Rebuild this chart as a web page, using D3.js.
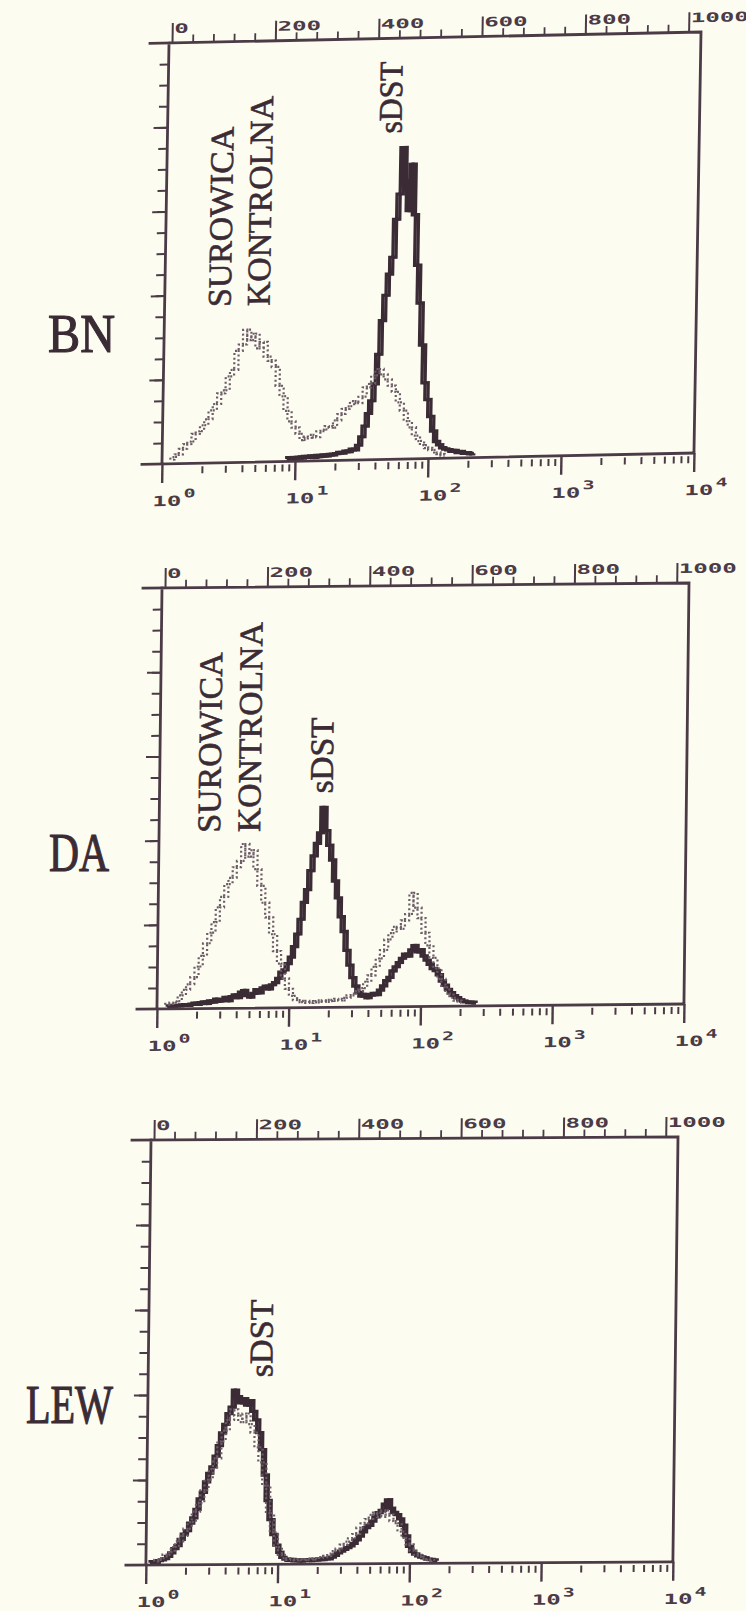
<!DOCTYPE html>
<html>
<head>
<meta charset="utf-8">
<script src="https://cdn.jsdelivr.net/npm/d3@7"></script>
<style>
  html, body { margin: 0; padding: 0; background: #fcfcf0; }
  svg { display: block; }
</style>
</head>
<body>
<svg id="fig" width="746" height="1611"></svg>
<script>
// ---------------------------------------------------------------------------
// Flow-cytometry histograms: fluorescence (log, 4 decades, 1024 channels)
// versus relative cell count (% of full scale). Each series is stored as
// counts per bin, starting at a channel and advancing by a fixed bin width.
// ---------------------------------------------------------------------------

// Strain labels
const strains = ["BN", "DA", "LEW"];

// Top channel axis and bottom decade axis
const channelLabels = [0, 200, 400, 600, 800, 1000];
const channelMinor = [40, 80, 120, 160, 240, 280, 320, 360, 440, 480, 520, 560,
                      640, 680, 720, 760, 840, 880, 920, 960];
const decades = [1, 10, 100, 1000, 10000];
const decadeExponents = ["0", "1", "2", "3", "4"];
const countTicks = [5, 10, 15, 20, 25, 30, 35, 40, 45, 50, 55, 60, 65, 70, 75, 80, 85, 90, 95];
const countMajor = [20, 40, 60, 80];

// BN — control serum (dotted) and sDST (solid)
const bnControlStart = 16, bnControlStep = 8;
const bnControl = [1.0, 1.6, 2.2, 3.5, 4.6, 5.2, 7.0, 7.6, 9.0, 10.4, 12.5, 14.0, 16.5, 17.2,
  20.5, 22.0, 26.5, 28.0, 31.5, 29.0, 30.5, 27.0, 28.5, 25.0, 24.0, 22.5, 18.0, 15.5, 12.0,
  9.5, 8.0, 6.5, 5.0, 5.5, 6.2, 5.6, 7.0, 7.4, 8.2, 7.8, 9.5, 11.0, 12.2, 12.8, 14.0, 13.5,
  15.0, 17.2, 18.0, 20.0, 21.5, 20.2, 19.0, 17.5, 16.0, 13.5, 11.5, 9.0, 7.5, 5.5, 4.2, 3.2,
  2.5, 2.0, 1.4, 1.0, 0.6];
const bnSdstStart = 240, bnSdstStep = 6;
const bnSdst = [0.6, 0.9, 0.5, 0.8, 1.0, 0.7, 1.1, 0.9, 1.2, 0.8, 1.3, 1.0, 1.4, 1.1, 1.5,
  1.3, 1.6, 1.9, 1.7, 2.2, 2.0, 2.6, 2.4, 3.5, 5.5, 8.0, 11.0, 14.0, 18.0, 25.0, 33.0, 39.0,
  44.0, 48.0, 57.0, 63.0, 74.0, 66.0, 59.0, 70.0, 58.0, 46.0, 37.0, 27.0, 18.0, 14.0, 10.0,
  6.5, 4.0, 3.2, 2.5, 2.2, 2.0, 1.6, 1.8, 1.3, 1.5, 1.1, 1.2, 0.9, 1.0];

// DA — control serum (dotted) and sDST (solid)
const daControlStart = 16, daControlStep = 8;
const daControl = [1.0, 1.2, 1.5, 1.8, 3.2, 4.5, 5.8, 7.5, 10.0, 12.5, 15.5, 18.0, 20.5, 24.0,
  26.5, 29.5, 31.0, 33.5, 35.0, 39.0, 36.0, 37.5, 33.0, 29.0, 25.0, 21.5, 17.5, 13.5, 10.5,
  7.0, 4.5, 2.8, 1.8, 1.3, 1.6, 1.1, 1.5, 1.2, 1.7, 1.3, 1.8, 1.5, 2.0, 1.6, 2.2, 2.8, 3.2,
  3.8, 4.5, 6.0, 7.5, 9.5, 11.5, 13.5, 16.0, 17.5, 19.0, 18.5, 20.5, 22.0, 27.0, 23.5, 21.0,
  17.5, 14.5, 11.5, 9.0, 6.5, 4.5, 3.0, 2.0, 1.3, 0.8];
const daSdstStart = 20, daSdstStep = 6;
const daSdst = [0.5, 0.7, 0.6, 0.8, 0.7, 0.9, 1.0, 0.8, 1.1, 1.3, 1.0, 1.4, 1.6, 1.2, 1.8,
  1.5, 2.2, 1.7, 2.0, 2.6, 1.8, 2.8, 3.2, 2.5, 3.8, 4.2, 3.0, 2.6, 3.5, 4.4, 3.6, 4.8, 5.2,
  4.5, 5.5, 6.0, 7.0, 8.5, 9.0, 10.5, 12.0, 14.5, 17.5, 21.0, 25.0, 28.0, 32.5, 36.0, 39.0,
  41.5, 47.5, 42.0, 38.5, 35.0, 30.0, 26.0, 21.5, 18.0, 13.5, 10.0, 7.0, 5.0, 3.5, 2.6, 3.0,
  2.2, 2.8, 3.2, 2.9, 4.0, 5.0, 6.2, 7.0, 8.5, 9.5, 10.5, 11.5, 12.5, 12.0, 13.5, 14.5, 13.0,
  13.5, 12.0, 11.0, 10.0, 9.0, 8.5, 7.5, 6.0, 5.0, 4.0, 3.2, 2.5, 2.0, 1.5, 1.2, 1.0, 0.8,
  0.9, 0.7];

// LEW — control serum (dotted) and sDST (solid)
const lewControlStart = 16, lewControlStep = 8;
const lewControl = [0.8, 1.2, 1.6, 2.4, 3.0, 4.2, 5.5, 6.8, 8.5, 10.0, 12.5, 14.5, 17.5, 20.0,
  22.5, 25.0, 29.0, 31.5, 34.0, 36.5, 35.0, 33.5, 35.5, 33.0, 31.0, 27.5, 24.0, 18.5, 12.0,
  7.5, 4.0, 2.2, 1.4, 1.0, 1.2, 0.9, 1.1, 1.0, 1.3, 1.1, 1.4, 1.6, 1.9, 2.4, 3.0, 3.6, 4.5,
  5.2, 6.0, 7.0, 8.5, 9.5, 10.5, 11.5, 12.0, 11.0, 12.5, 11.5, 10.0, 9.5, 7.5, 6.0, 4.5, 3.0,
  2.0, 1.5, 1.0, 0.8, 0.6];
const lewSdstStart = 8, lewSdstStep = 6;
const lewSdst = [0.5, 0.8, 0.6, 1.0, 1.2, 1.5, 2.0, 2.8, 3.8, 4.5, 6.0, 7.2, 8.0, 9.8, 11.0,
  13.0, 15.5, 17.0, 19.5, 21.5, 23.0, 25.5, 28.0, 31.0, 33.0, 35.5, 37.0, 41.0, 39.5, 38.0,
  39.0, 37.5, 38.5, 36.0, 34.0, 31.0, 27.0, 21.0, 15.0, 10.5, 7.0, 4.5, 2.8, 1.6, 1.2, 0.9,
  1.1, 0.8, 1.0, 0.7, 0.9, 1.0, 0.8, 1.1, 0.9, 1.2, 1.0, 1.3, 1.2, 1.6, 2.0, 2.6, 3.0, 3.4,
  3.8, 4.2, 4.8, 5.6, 6.5, 7.5, 8.5, 9.0, 10.0, 11.0, 12.0, 12.5, 14.0, 15.0, 13.0, 12.0,
  11.5, 10.5, 9.0, 6.5, 4.0, 2.8, 2.2, 1.8, 1.5, 1.3, 1.0, 0.9, 0.8, 0.6];

// ---------------------------------------------------------------------------
// Layout of the three printed frames (slightly sheared, as printed)
// ---------------------------------------------------------------------------
const INK = "#4b3b47";
const DARK = "#3a2b35";
const DOT = "#6c5c67";

const panels = [
  { label: strains[0], x0: 169, y0: 43, w: 532, h: 421, shX: -0.0167, shY: -0.0206,
    control: [bnControlStart, bnControlStep, bnControl],
    sdst: [bnSdstStart, bnSdstStep, bnSdst],
    tag: { x: 48, y: 352, len: 67 },
    notes: [
      { text: "SUROWICA", u: 66, v: 265, len: 180 },
      { text: "KONTROLNA", u: 105, v: 265, len: 210 },
      { text: "sDST", u: 234, v: 95, len: 72 }
    ] },
  { label: strains[1], x0: 162, y0: 588, w: 527, h: 421, shX: -0.012, shY: -0.0095,
    control: [daControlStart, daControlStep, daControl],
    sdst: [daSdstStart, daSdstStep, daSdst],
    tag: { x: 49, y: 871, len: 60 },
    notes: [
      { text: "SUROWICA", u: 61, v: 245, len: 180 },
      { text: "KONTROLNA", u: 101, v: 245, len: 210 },
      { text: "sDST", u: 173, v: 207, len: 76 }
    ] },
  { label: strains[2], x0: 151, y0: 1140, w: 527, h: 425, shX: -0.012, shY: -0.006,
    control: [lewControlStart, lewControlStep, lewControl],
    sdst: [lewSdstStart, lewSdstStep, lewSdst],
    tag: { x: 26, y: 1423, len: 87 },
    notes: [
      { text: "sDST", u: 124, v: 238, len: 78 }
    ] }
];

const svg = d3.select("#fig");
svg.append("rect").attr("width", 746).attr("height", 1611).attr("fill", "#fcfcf0");

function toPoints(series) {
  const [start, step, counts] = series;
  return counts.map((c, i) => [start + i * step, c]);
}

function styleAxis(sel, width) {
  sel.select(".domain").remove();
  sel.selectAll(".tick line").attr("stroke", INK).attr("stroke-width", width);
  sel.selectAll(".tick text").remove();
}

panels.forEach(p => {
  // Strain name beside the frame
  svg.append("text")
    .attr("x", p.tag.x).attr("y", p.tag.y)
    .attr("font-family", "'Liberation Serif', 'Times New Roman', serif")
    .attr("font-size", 54)
    .attr("fill", DARK)
    .attr("stroke", DARK)
    .attr("stroke-width", 1.1)
    .attr("textLength", p.tag.len)
    .attr("lengthAdjust", "spacingAndGlyphs")
    .text(p.label);

  const g = svg.append("g")
    .attr("transform", `matrix(1,${p.shY},${p.shX},1,${p.x0},${p.y0})`);

  const xChan = d3.scaleLinear().domain([0, 1024]).range([3, p.w]);
  const xData = d3.scaleLinear().domain([0, 1024]).range([0, p.w]);
  const xLog = d3.scaleLog().domain([1, 10000]).range([0, p.w]);
  const y = d3.scaleLinear().domain([0, 100]).range([p.h, 0]);

  // Histograms: each trace is stepped both ways, which gives the heavy,
  // ragged look of the plotter output; the dotted control is printed last
  const stepBefore = d3.line().x(d => xData(d[0])).y(d => y(d[1])).curve(d3.curveStepBefore);
  const stepAfter = d3.line().x(d => xData(d[0])).y(d => y(d[1])).curve(d3.curveStepAfter);

  const sdstPts = toPoints(p.sdst);
  [stepBefore, stepAfter].forEach(gen => {
    g.append("path")
      .datum(sdstPts)
      .attr("d", gen)
      .attr("fill", "none")
      .attr("stroke", DARK)
      .attr("stroke-width", 3.3)
      .attr("stroke-linejoin", "miter");
  });

  const ctrlPts = toPoints(p.control);
  [[stepBefore, 0], [stepAfter, 2]].forEach(([gen, offset]) => {
    g.append("path")
      .datum(ctrlPts)
      .attr("d", gen)
      .attr("fill", "none")
      .attr("stroke", DOT)
      .attr("stroke-width", 2.2)
      .attr("stroke-dasharray", "2,2.6")
      .attr("stroke-dashoffset", offset);
  });

  // Frame
  const frame = d3.path();
  frame.moveTo(-19, 0); frame.lineTo(p.w, 0); frame.lineTo(p.w, p.h);
  frame.moveTo(0, 0); frame.lineTo(0, p.h);
  frame.moveTo(-20, p.h); frame.lineTo(p.w, p.h);
  g.append("path").attr("d", frame.toString())
    .attr("fill", "none").attr("stroke", INK).attr("stroke-width", 2.8)
    .attr("stroke-linecap", "square");

  // Top channel axis
  g.append("g").call(d3.axisTop(xChan).tickValues(channelMinor).tickSize(8).tickFormat(""))
    .call(s => styleAxis(s, 1.8));
  g.append("g").call(d3.axisTop(xChan).tickValues(channelLabels).tickSize(20).tickFormat(""))
    .call(s => styleAxis(s, 2));
  g.selectAll(".chan-label").data(channelLabels).join("text")
    .attr("class", "chan-label")
    .attr("x", d => xChan(d) + 2)
    .attr("y", -10)
    .attr("font-family", "'DejaVu Sans Mono', monospace")
    .attr("font-weight", "bold")
    .attr("font-size", 13)
    .attr("fill", INK)
    .attr("textLength", d => String(d).length * 14.5)
    .attr("lengthAdjust", "spacingAndGlyphs")
    .text(d => String(d));

  // Left count axis
  g.append("g").call(d3.axisLeft(y).tickValues(countTicks).tickSize(9).tickFormat(""))
    .call(s => styleAxis(s, 2));
  g.append("g").call(d3.axisLeft(y).tickValues(countMajor).tickSize(14).tickFormat(""))
    .call(s => styleAxis(s, 2));

  // Bottom log axis
  const minor = [];
  decades.slice(0, 4).forEach(d => [2, 3, 4, 5, 6, 7, 8, 9].forEach(m => minor.push(d * m)));
  g.append("g").attr("transform", `translate(0,${p.h + 3})`)
    .call(d3.axisBottom(xLog).tickValues(minor).tickSize(7).tickFormat(""))
    .call(s => styleAxis(s, 2));
  g.append("g").attr("transform", `translate(0,${p.h})`)
    .call(d3.axisBottom(xLog).tickValues(decades).tickSize(19).tickFormat(""))
    .call(s => styleAxis(s, 2.4));

  const decLab = g.selectAll(".dec-label").data(decades).join("g")
    .attr("class", "dec-label")
    .attr("transform", d => `translate(${xLog(d)},${p.h + 42})`);
  decLab.append("text")
    .attr("x", -9).attr("y", 0)
    .attr("font-family", "'DejaVu Sans Mono', monospace")
    .attr("font-weight", "bold")
    .attr("font-size", 14)
    .attr("fill", INK)
    .attr("textLength", 29)
    .attr("lengthAdjust", "spacingAndGlyphs")
    .text("10");
  decLab.append("text")
    .attr("x", 22).attr("y", -8)
    .attr("font-family", "'DejaVu Sans Mono', monospace")
    .attr("font-weight", "bold")
    .attr("font-size", 12)
    .attr("fill", INK)
    .attr("textLength", 12)
    .attr("lengthAdjust", "spacingAndGlyphs")
    .text((d, i) => decadeExponents[i]);

  // Annotations written along the peaks
  p.notes.forEach(n => {
    g.append("text")
      .attr("transform", `translate(${n.u},${n.v}) rotate(-90)`)
      .attr("font-family", "'Liberation Serif', 'Times New Roman', serif")
      .attr("font-size", 33)
      .attr("fill", DARK)
      .attr("stroke", DARK)
      .attr("stroke-width", 0.6)
      .attr("textLength", n.len)
      .attr("lengthAdjust", "spacingAndGlyphs")
      .text(n.text);
  });
});
</script>
</body>
</html>
